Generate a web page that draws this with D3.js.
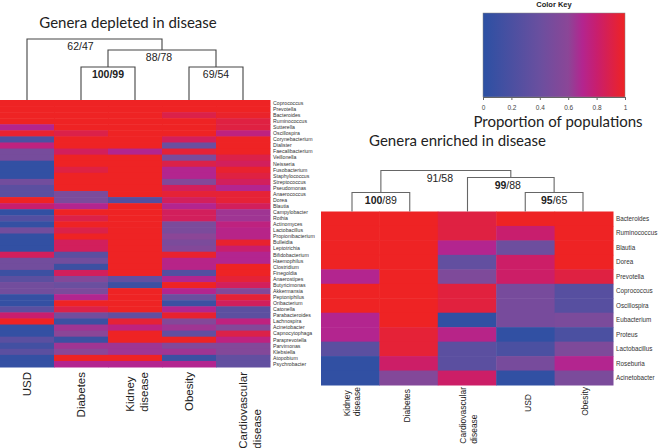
<!DOCTYPE html>
<meta charset="utf-8" />
<script src="https://d3js.org/d3.v7.min.js"></script>
<style>
  html, body { margin: 0; padding: 0; background: #fff; }
  svg { display: block; }
</style>
<div id="my_dataviz"></div>
<script>
  // left panel: genera depleted in disease
  const depletedGenera = ["Coprococcus","Prevotella","Bacteroides","Ruminococcus","Sutterella","Oscillospira","Corynebacterium","Dialister","Faecalibacterium","Veillonella","Neisseria","Fusobacterium","Staphylococcus","Streptococcus","Pseudomonas","Anaerococcus","Dorea","Blautia","Campylobacter","Rothia","Actinomyces","Lactobacillus","Propionibacterium","Bulleidia","Leptotrichia","Bifidobacterium","Haemophilus","Clostridium","Finegoldia","Anaerostipes","Butyricimonas","Akkermansia","Peptoniphilus","Oribacterium","Catonella","Parabacteroides","Lachnospira","Acinetobacter","Capnocytophaga","Paraprevotella","Parvimonas","Klebsiella","Atopobium","Psychrobacter"];
  const depletedGroups = ["USD", "Diabetes", "Kidney disease", "Obesity", "Cardiovascular disease"];
  const depletedUSD = [1,1,1,1,.7,.97,.2,.75,.47,.47,.04,.04,.04,.45,.3,.3,1,.8,.04,.25,.05,.45,.04,.04,.04,.85,.45,.45,.1,.3,.45,.45,.05,.05,.3,.8,1,.05,.05,.3,.15,.3,.05,.05];
  const depletedDiabetes = [1,1,1,1,1,.9,1,1,.85,1,1,.92,1,1,1,.5,.5,.7,1,.9,1,.9,1,.85,.85,.3,.45,.1,.85,.55,.4,.5,.7,1,.9,.45,.1,.65,.6,.1,.65,.6,1,.7];
  const depletedKidney = [1,1,1,1,1,1,1,1,.7,1,1,1,1,1,1,1,.25,1,1,1,1,1,1,1,1,1,1,1,1,.35,.1,1,1,1,1,.35,.95,.75,1,1,.65,.65,1,.7];
  const depletedObesity = [1,1,.9,1,1,1,.85,.4,.95,.5,.9,.7,.7,.55,.85,.95,.85,.7,.85,.85,.5,.5,.6,.5,.55,.97,.72,.72,.25,.7,1,.7,.4,.1,.7,.97,.55,.65,.35,1,.55,.65,.1,.7];
  const depletedCVD = [1,1,.98,.92,.92,.75,1,1,1,.9,.85,.97,.92,.85,.7,.95,.95,.85,.65,.65,.75,.72,.72,.97,.8,.7,.7,1,1,.95,.85,.55,.95,.85,.3,.3,.75,.55,.9,.75,.55,.55,.35,.35];

  // right panel: genera enriched in disease
  const enrichedGenera = ["Bacteroides","Ruminococcus","Blautia","Dorea","Prevotella","Coprococcus","Oscillospira","Eubacterium","Proteus","Lactobacillus","Roseburia","Acinetobacter"];
  const enrichedGroups = ["Kidney disease", "Diabetes", "Cardiovascular disease", "USD", "Obesity"];
  const enrichedKidney = [1,1,1,1,.7,1,1,.7,.7,.3,.03,.03];
  const enrichedDiabetes = [1,1,1,1,1,1,1,1,.95,.95,.82,.55];
  const enrichedCVD = [.92,.92,.7,.35,.52,.93,.93,.03,.72,.3,.3,.82];
  const enrichedUSD = [1,.8,.42,.82,.82,.48,.48,.48,.03,.2,.48,.03];
  const enrichedObesity = [1,1,1,1,.92,.28,.28,.5,.2,.52,.7,.5];

  // bootstrap trees, h = merge height
  const depletedTree = { h: 61, strong: "", rest: "62/47", children: [
    { name: "USD" },
    { h: 50, strong: "", rest: "88/78", children: [
      { h: 33, strong: "100/99", rest: "", children: [{ name: "Diabetes" }, { name: "Kidney disease" }] },
      { h: 33, strong: "", rest: "69/54", children: [{ name: "Obesity" }, { name: "Cardiovascular disease" }] }
    ] }
  ] };
  const enrichedTree = { h: 41, strong: "", rest: "91/58", children: [
    { h: 19, strong: "100", rest: "/89", children: [{ name: "Kidney disease" }, { name: "Diabetes" }] },
    { h: 34, strong: "99", rest: "/88", children: [
      { name: "Cardiovascular disease" },
      { h: 19, strong: "95", rest: "/65", children: [{ name: "USD" }, { name: "Obesity" }] }
    ] }
  ] };

  const keyTicks = [0, 0.2, 0.4, 0.6, 0.8, 1];

  const color = d3
    .scaleLinear()
    .domain([0, 0.4, 0.6, 0.7, 0.8, 1])
    .range(["#2c50a3", "#6a4f9f", "#8b4697", "#b3258f", "#c81e6e", "#ee2324"]);

  const svg = d3
    .select("#my_dataviz")
    .append("svg")
    .attr("width", 658)
    .attr("height", 448);

  function drawHeatmap(opt) {
    const x = d3.scaleBand().domain(opt.groups).range(opt.xRange);
    const y = d3.scaleBand().domain(opt.genera).range(opt.yRange);
    const g = svg.append("g");

    opt.columns.forEach((col, i) => {
      g.selectAll(null)
        .data(col)
        .join("rect")
        .attr("x", x(opt.groups[i]))
        .attr("y", (d, j) => y(opt.genera[j]))
        .attr("width", x.bandwidth() + 0.5)
        .attr("height", y.bandwidth() + 0.5)
        .style("fill", (d) => color(d));
    });

    // row labels
    g.selectAll(null)
      .data(opt.genera)
      .join("text")
      .attr("x", opt.xRange[1] + opt.labelGap)
      .attr("y", (d) => y(d) + y.bandwidth() / 2)
      .attr("dy", "0.35em")
      .style("font-family", "Liberation Sans")
      .style("font-size", opt.rowFont + "px")
      .style("fill", "#333")
      .text((d) => d);

    // column labels, read upwards, two lines where the name wraps
    opt.groups.forEach((name) => {
      const parts = name.split(" ");
      const lines = parts.length > 1 ? parts : [name];
      const t = g
        .selectAll(null)
        .data(lines)
        .join("text")
        .style("font-family", "Liberation Sans")
        .style("font-size", opt.colFont + "px")
        .style("fill", "#222")
        .text((d) => d);
      let longest = 0;
      t.each(function () {
        longest = Math.max(longest, this.getComputedTextLength());
      });
      const cx = x(name) + x.bandwidth() / 2 + opt.colShift(name);
      const top = opt.colTop + opt.colDrop(name);
      t.attr("transform", (d, i) => {
        const px = cx + (i - (lines.length - 1) / 2) * opt.lineGap + opt.colFont * 0.36;
        return `translate(${px}, ${top + longest}) rotate(-90)`;
      });
    });
  }

  function drawDendrogram(opt) {
    const root = d3.hierarchy(opt.tree);
    const y = d3.scaleLinear().domain([0, root.data.h]).range(opt.yRange);
    root.eachAfter((n) => {
      n.px = n.children ? d3.mean(n.children, (c) => c.px) : opt.leafX(n.data.name);
      n.py = y(n.children ? n.data.h : 0);
    });
    const g = svg.append("g");
    const inner = root.descendants().filter((n) => n.children);

    g.selectAll(null)
      .data(inner)
      .join("path")
      .attr("d", (n) => {
        const [a, b] = n.children;
        return `M${a.px},${a.py}V${n.py}H${b.px}V${b.py}`;
      })
      .style("fill", "none")
      .style("stroke", opt.stroke)
      .style("stroke-width", 1.1);

    const labels = g
      .selectAll(null)
      .data(inner)
      .join("text")
      .attr("x", (n) => n.px + (opt.nudge[n.data.strong + n.data.rest] || 0))
      .attr("y", (n) => n.py + opt.labelDrop)
      .attr("text-anchor", "middle")
      .style("font-family", "Liberation Sans")
      .style("font-size", "10.5px")
      .style("fill", "#222");
    labels
      .append("tspan")
      .style("font-weight", "bold")
      .text((n) => n.data.strong);
    labels.append("tspan").text((n) => n.data.rest);
  }

  drawHeatmap({
    genera: depletedGenera,
    groups: depletedGroups,
    columns: [depletedUSD, depletedDiabetes, depletedKidney, depletedObesity, depletedCVD],
    xRange: [0, 270],
    yRange: [100, 367],
    labelGap: 3,
    rowFont: 5.2,
    colFont: 11.5,
    colTop: 372,
    lineGap: 13.5,
    colShift: (d) => (d === "Cardiovascular disease" ? 7 : d === "Kidney disease" ? 2 : 0),
    colDrop: () => 0
  });

  drawHeatmap({
    genera: enrichedGenera,
    groups: enrichedGroups,
    columns: [enrichedKidney, enrichedDiabetes, enrichedCVD, enrichedUSD, enrichedObesity],
    xRange: [321, 613],
    yRange: [211.5, 385],
    labelGap: 3,
    rowFont: 6.3,
    colFont: 8.5,
    colTop: 387,
    lineGap: 10.5,
    colShift: (d) => (d === "USD" ? 2.5 : d === "Diabetes" ? -1.5 : d === "Cardiovascular disease" || d === "Kidney disease" ? 1.5 : 1),
    colDrop: (d) => (d === "USD" ? 7 : d === "Diabetes" ? 2 : 0)
  });

  const depletedLeaf = d3.scalePoint().domain(depletedGroups).range([27, 243]);
  drawDendrogram({
    tree: depletedTree,
    leafX: depletedLeaf,
    yRange: [100, 39],
    stroke: "#444",
    labelDrop: 11,
    nudge: { "62/47": -14, "88/78": -3 }
  });

  const enrichedLeaf = d3.scalePoint().domain(enrichedGroups).range([352, 583]);
  drawDendrogram({
    tree: enrichedTree,
    leafX: enrichedLeaf,
    yRange: [211.5, 170.5],
    stroke: "#666",
    labelDrop: 11,
    nudge: { "91/58": -6, "99/88": -3 }
  });

  // titles
  const titles = [
    { text: "Genera depleted in disease", x: 128, y: 28 },
    { text: "Genera enriched in disease", x: 457.5, y: 146 },
    { text: "Proportion of populations", x: 558, y: 127 }
  ];
  svg
    .selectAll(null)
    .data(titles)
    .join("text")
    .attr("x", (d) => d.x)
    .attr("y", (d) => d.y)
    .attr("text-anchor", "middle")
    .style("font-family", "Lato")
    .style("font-size", "15px")
    .style("fill", "#222")
    .text((d) => d.text);

  // color key
  const keyX = d3.scaleLinear().domain([0, 1]).range([483, 625]);
  const keyTop = 13,
    keyBottom = 97;
  const grad = svg
    .append("defs")
    .append("linearGradient")
    .attr("id", "key-gradient");
  grad
    .selectAll("stop")
    .data(color.domain())
    .join("stop")
    .attr("offset", (d) => d * 100 + "%")
    .attr("stop-color", (d) => color(d));
  svg
    .append("rect")
    .attr("x", keyX(0))
    .attr("y", keyTop)
    .attr("width", keyX(1) - keyX(0))
    .attr("height", keyBottom - keyTop)
    .style("fill", "url(#key-gradient)")
    .style("stroke", "#888")
    .style("stroke-width", 0.5);
  svg
    .append("text")
    .attr("x", 554)
    .attr("y", 7)
    .attr("text-anchor", "middle")
    .style("font-family", "Liberation Sans")
    .style("font-weight", "bold")
    .style("font-size", "7.5px")
    .style("fill", "#222")
    .text("Color Key");
  const keyAxis = svg
    .append("g")
    .attr("transform", `translate(0, ${keyBottom})`)
    .call(
      d3.axisBottom(keyX)
        .tickValues(keyTicks)
        .tickSize(3)
        .tickPadding(5)
        .tickFormat(d3.format("~g"))
    );
  keyAxis.select(".domain").style("stroke", "#666");
  keyAxis.selectAll("line").style("stroke", "#666");
  keyAxis
    .selectAll("text")
    .style("font-family", "Liberation Sans")
    .style("font-size", "6.5px")
    .style("fill", "#444");
</script>
